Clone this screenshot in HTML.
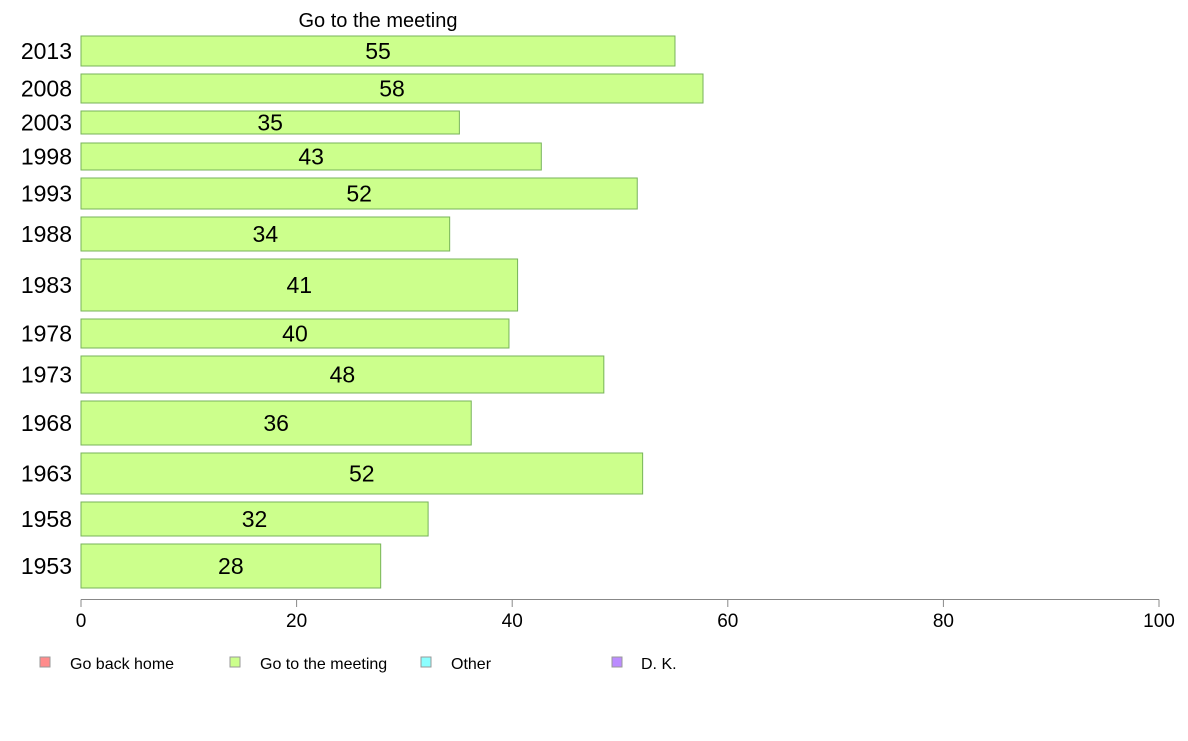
<!DOCTYPE html>
<html><head><meta charset="utf-8"><style>
body{margin:0;background:#fff;font-family:"Liberation Sans",sans-serif}
svg text{font-family:"Liberation Sans",sans-serif}
</style></head><body>
<svg id="chart" width="1188" height="736" xmlns="http://www.w3.org/2000/svg">
<text x="378" y="27" font-size="20" text-anchor="middle">Go to the meeting</text>
<g id="bars"></g>
<g id="axis"></g>
<g font-size="16">
<g><rect x="40" y="657" width="10" height="10" fill="#ff8c8c" stroke="#999"/><text x="70" y="669">Go back home</text></g>
<g><rect x="230" y="657" width="10" height="10" fill="#ccff8c" stroke="#999"/><text x="260" y="669">Go to the meeting</text></g>
<g><rect x="421" y="657" width="10" height="10" fill="#8cffff" stroke="#999"/><text x="451" y="669">Other</text></g>
<g><rect x="612" y="657" width="10" height="10" fill="#bb8cff" stroke="#999"/><text x="641" y="669">D. K.</text></g>
</g>
</svg>
<script>
const years=["2013","2008","2003","1998","1993","1988","1983","1978","1973","1968","1963","1958","1953"];
const values=[55.1,57.7,35.1,42.7,51.6,34.2,40.5,39.7,48.5,36.2,52.1,32.2,27.8];
const labels=["55","58","35","43","52","34","41","40","48","36","52","32","28"];
const ticks=[0,20,40,60,80,100];
// layout: bar top/bottom rows (pixels)
const rowTop=[36,74,111,143,178,217,259,319,356,401,453,502,544];
const rowBot=[66,103,134,170,209,251,311,348,393,445,494,536,588];
const NS="http://www.w3.org/2000/svg";
const x=v=>81+v*10.78;
const bars=document.getElementById('bars');
function mk(t,a,p){const e=document.createElementNS(NS,t);for(const k in a)e.setAttribute(k,a[k]);p.appendChild(e);return e;}
years.forEach((yr,i)=>{
  const g=mk('g',{},bars);
  
  
  const t=rowTop[i],b=rowBot[i],m=(t+b)/2;
  mk('rect',{x:x(0),y:t,width:x(values[i])-x(0),height:b-t,fill:'#ccff8c',stroke:'#77b35a','stroke-width':1},g);
  const v=mk('text',{x:(x(0)+x(values[i]))/2,y:m+8,'font-size':23,'text-anchor':'middle'},g);v.textContent=labels[i];
  const yl=mk('text',{x:72,y:m+8,'font-size':23,'text-anchor':'end'},bars);yl.textContent=yr;
  
  
});
const ax=document.getElementById('axis');
mk('line',{x1:x(0),x2:x(100),y1:599.5,y2:599.5,stroke:'#888'},ax);
ticks.forEach(tk=>{
  mk('line',{x1:x(tk),x2:x(tk),y1:599.5,y2:607,stroke:'#888'},ax);
  const t=mk('text',{x:x(tk),y:627,'font-size':19,'text-anchor':'middle'},ax);t.textContent=tk;
  
  
});
</script>
</body></html>
